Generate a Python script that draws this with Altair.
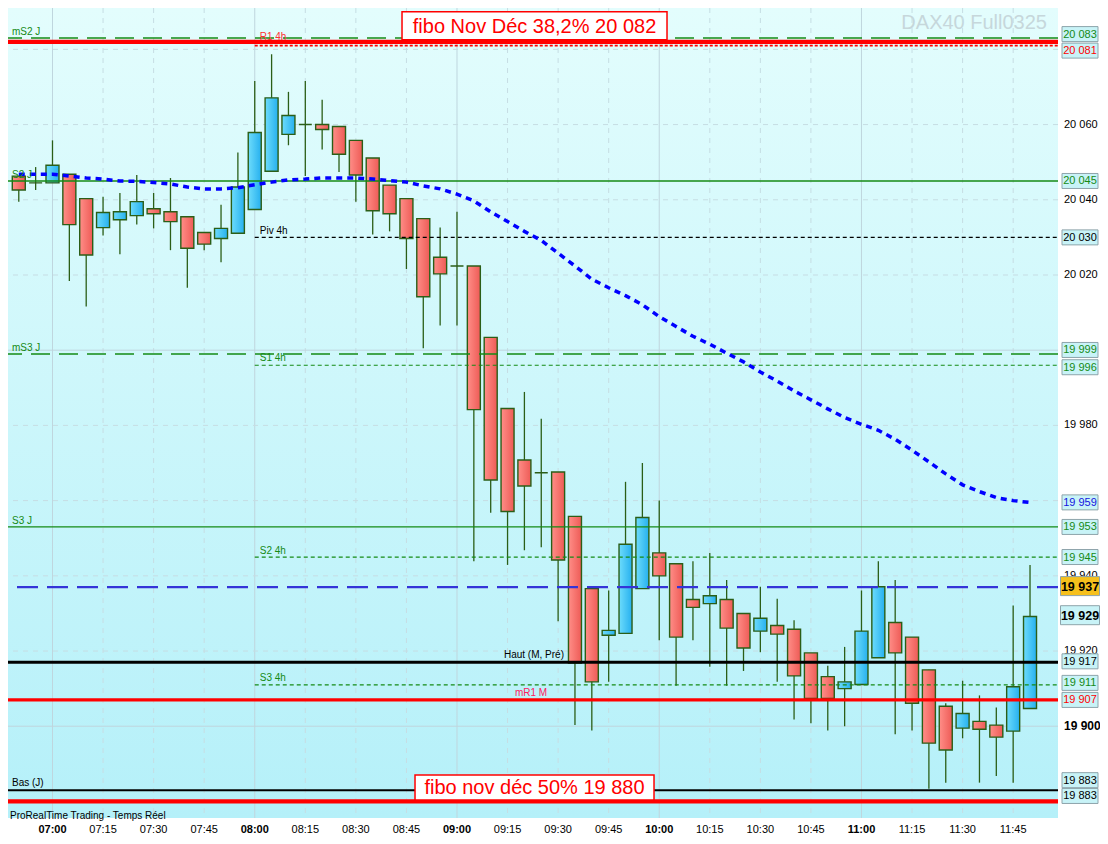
import pandas as pd
import altair as alt

# DAX40 5 min candles, 06:50 -> 11:50
times = ["06:50", "06:55", "07:00", "07:05", "07:10", "07:15", "07:20", "07:25",
         "07:30", "07:35", "07:40", "07:45", "07:50", "07:55", "08:00", "08:05",
         "08:10", "08:15", "08:20", "08:25", "08:30", "08:35", "08:40", "08:45",
         "08:50", "08:55", "09:00", "09:05", "09:10", "09:15", "09:20", "09:25",
         "09:30", "09:35", "09:40", "09:45", "09:50", "09:55", "10:00", "10:05",
         "10:10", "10:15", "10:20", "10:25", "10:30", "10:35", "10:40", "10:45",
         "10:50", "10:55", "11:00", "11:05", "11:10", "11:15", "11:20", "11:25",
         "11:30", "11:35", "11:40", "11:45", "11:50"]

opens = [20046.3, 20044.5, 20044.5, 20046.8, 20040.3, 20032.6, 20034.7, 20035.8, 20037.6, 20036.8,
         20035.5, 20031.3, 20029.7, 20031.1, 20037.4, 20047.6, 20057.4, 20060.0, 20060.0, 20059.5,
         20055.8, 20051.1, 20043.9, 20040.3, 20035.0, 20024.7, 20022.4, 20022.4, 20003.4, 19984.5,
         19970.8, 19967.4, 19967.6, 19955.8, 19936.6, 19924.2, 19924.7, 19936.6, 19946.1, 19943.2,
         19933.7, 19932.6, 19933.7, 19930.0, 19925.3, 19926.8, 19925.8, 19919.5, 19913.2, 19910.0,
         19911.1, 19918.2, 19927.6, 19923.7, 19915.0, 19905.3, 19899.5, 19901.3, 19900.3, 19898.7,
         19904.7]
highs = [20046.3, 20048.7, 20055.8, 20046.8, 20040.3, 20040.8, 20041.8, 20046.6, 20041.8, 20045.8,
         20035.5, 20031.3, 20038.7, 20052.6, 20071.6, 20078.7, 20068.7, 20071.6, 20066.6, 20059.5,
         20055.8, 20051.1, 20043.9, 20040.3, 20035.0, 20032.6, 20036.8, 20022.4, 20003.4, 19984.5,
         19988.9, 19981.8, 19967.6, 19955.8, 19936.6, 19936.1, 19965.0, 19970.0, 19960.0, 19943.2,
         19943.9, 19946.1, 19938.9, 19930.0, 19937.1, 19933.9, 19928.2, 19919.5, 19916.1, 19921.1,
         19936.1, 19943.9, 19938.9, 19923.7, 19915.0, 19906.1, 19912.1, 19908.2, 19905.0, 19932.1,
         19942.9]
lows = [20039.5, 20042.6, 20044.5, 20018.4, 20011.6, 20030.5, 20025.5, 20033.4, 20032.4, 20026.6,
        20016.6, 20026.6, 20023.4, 20031.1, 20037.4, 20047.6, 20054.5, 20046.3, 20053.4, 20047.4,
        20039.5, 20030.8, 20031.6, 20021.6, 20000.5, 20006.6, 20006.6, 19943.9, 19956.8, 19942.9,
        19946.8, 19947.6, 19927.9, 19900.3, 19898.9, 19911.8, 19924.7, 19936.6, 19922.9, 19910.8,
        19922.9, 19915.8, 19910.8, 19914.7, 19919.7, 19911.8, 19901.8, 19900.8, 19898.9, 19900.0,
        19911.1, 19918.2, 19897.9, 19898.9, 19883.4, 19885.0, 19896.8, 19885.0, 19886.8, 19885.0,
        19904.7]
closes = [20042.6, 20044.5, 20049.2, 20033.4, 20025.3, 20036.6, 20036.8, 20039.5, 20036.3, 20034.2,
          20027.1, 20028.2, 20032.4, 20043.4, 20057.9, 20067.1, 20062.4, 20060.0, 20058.7, 20052.1,
          20046.6, 20037.1, 20036.3, 20029.7, 20014.2, 20020.3, 20022.4, 19984.2, 19965.5, 19957.1,
          19963.9, 19967.4, 19944.2, 19916.8, 19911.8, 19925.5, 19948.4, 19955.5, 19940.0, 19923.7,
          19931.6, 19934.7, 19926.1, 19920.8, 19928.7, 19924.5, 19913.4, 19907.4, 19907.4, 19911.8,
          19925.3, 19937.1, 19919.5, 19906.1, 19895.5, 19893.7, 19903.4, 19899.2, 19897.1, 19910.5,
          19929.2]
# moving average (blue dotted)
ma = [20046.8, 20046.8, 20046.8, 20046.3, 20045.8, 20045.5, 20045.0, 20044.9, 20044.6, 20044.2,
      20043.4, 20042.9, 20042.9, 20043.2, 20044.0, 20044.7, 20045.3, 20045.5, 20045.8, 20045.8,
      20045.8, 20045.5, 20045.1, 20044.7, 20043.7, 20042.9, 20041.5, 20039.7, 20036.8, 20034.2,
      20031.6, 20029.2, 20025.8, 20022.4, 20018.9, 20016.6, 20014.5, 20012.1, 20008.9, 20006.3,
      20003.7, 20001.6, 19999.2, 19996.9, 19994.2, 19991.8, 19989.2, 19986.8, 19984.4, 19982.1,
      19980.3, 19978.7, 19976.3, 19973.4, 19970.3, 19967.1, 19964.2, 19962.4, 19960.8, 19960.0,
      19959.5]

# support / resistance levels
level_names = ["mS2 J", "R1 4h", "S2 J", "Piv 4h", "mS3 J", "S1 4h", "S3 J", "S2 4h",
               "Haut (M, Pré)", "S3 4h", "mR1 M", "Bas (J)"]
level_prices = [20083, 20081, 20045, 20030, 19999, 19996, 19953, 19945,
                19917, 19911, 19907, 19883]
fibo_texts = ["fibo Nov Déc 38,2% 20 082", "fibo nov déc 50% 19 880"]
fibo_prices = [20082, 19880]
price_line = 19937

# value boxes on the right scale
box_texts = ["20 083", "20 081", "20 045", "20 030", "19 999", "19 996", "19 959", "19 953",
             "19 945", "19 937", "19 929", "19 917", "19 911", "19 907", "19 883", "19 883"]
box_prices = [20083, 20081, 20045, 20030, 19999, 19996, 19959, 19953,
              19945, 19937, 19929, 19917, 19911, 19907, 19883, 19880]

y_ticks = list(range(19880, 20091, 10))
# scale labels that the value boxes do not cover
y_label_values = [20060, 20040, 20020, 19980, 19940, 19920, 19900]

# ---- layout / styles
W, H = 1050, 810
RIGHT = 42
X_DOM = [406.8, 718.3]
Y_DOM = [19875.6, 20091.0]
PX_PER_PT = H / (Y_DOM[1] - Y_DOM[0])
FONT = "Liberation Sans"
GREEN = "#158a15"
RED = "#ff0000"
EDGE = "#2b5e17"


def to_min(s):
    return int(s[:2]) * 60 + int(s[3:])


xs = alt.Scale(domain=X_DOM, nice=False, zero=False, padding=0)
ys = alt.Scale(domain=Y_DOM, nice=False, zero=False, padding=0)

df = pd.DataFrame({"time": times, "open": opens, "high": highs, "low": lows,
                   "close": closes, "ma": ma})
df["t"] = df["time"].map(to_min)
up = df["close"] > df["open"]

X = alt.X("t:Q", scale=xs, axis=None)


def grad(c0, c1, vertical=False):
    return alt.Gradient(gradient="linear",
                        stops=[alt.GradientStop(color=c0, offset=0),
                               alt.GradientStop(color=c1, offset=1)],
                        x1=0, x2=0 if vertical else 1, y1=0, y2=1 if vertical else 0)


one = pd.DataFrame({"t0": [X_DOM[0]], "t1": [X_DOM[1]], "p0": [Y_DOM[0]], "p1": [Y_DOM[1]]})

y_axis = alt.Axis(orient="right", values=y_ticks, title=None, grid=False, labels=False,
                  tickSize=4, tickColor="#8fa3aa", domainColor="#8fa3aa")

bg = alt.Chart(one).mark_rect(color=grad("#e3fdfd", "#b5f0f9", vertical=True)).encode(
    x=alt.X("t0:Q", scale=xs, axis=None), x2="t1:Q",
    y=alt.Y("p0:Q", scale=ys, axis=y_axis), y2="p1:Q")

watermark = alt.Chart(one).mark_text(text="DAX40 Full0325", font=FONT, fontSize=20,
                                     color="#c6d7db", align="right").encode(
    x=alt.value(W - 11), y=alt.value(15))

# time labels under the chart
xl = pd.DataFrame({"time": [t for t in times if t[3:] in ("00", "15", "30", "45")]})
xl["t"] = xl["time"].map(to_min)
xl["hour"] = xl["t"] % 60 == 0
x_labels = [
    alt.Chart(xl[xl.hour == h]).mark_text(font=FONT, fontSize=11, color="black",
                                          fontWeight="bold" if h else "normal",
                                          baseline="middle").encode(
        X, y=alt.value(H + 12), text="time:N")
    for h in (True, False)]

# price labels on the right scale
yl = pd.DataFrame({"p": y_label_values})
yl["txt"] = yl["p"].map(lambda v: f"{v:,}".replace(",", " "))
yl["bold"] = yl["p"] == 19900
y_labels = [
    alt.Chart(yl[yl.bold == b]).mark_text(font=FONT, fontSize=12 if b else 11, color="black",
                                          fontWeight="bold" if b else "normal",
                                          align="left", baseline="middle").encode(
        x=alt.value(W + 6), y=alt.Y("p:Q", scale=ys, axis=None), text="txt:N")
    for b in (True, False)]

# grid
vg = xl[["t", "hour"]]
grid_v_hour = alt.Chart(vg[vg.hour]).mark_rule(color="#bfd6de", strokeWidth=1).encode(X)
grid_v_q = alt.Chart(vg[~vg.hour]).mark_rule(color="#c6dde3", strokeWidth=1,
                                             strokeDash=[5, 5]).encode(X)
hg = pd.DataFrame({"p": [v for v in y_ticks if v % 20 == 0]})
hg["round"] = hg["p"] % 100 == 0
grid_h_round = alt.Chart(hg[hg["round"]]).mark_rule(color="#bfd6de", strokeWidth=1).encode(
    y=alt.Y("p:Q", scale=ys, axis=None))
grid_h = alt.Chart(hg[~hg["round"]]).mark_rule(color="#c6dde3", strokeWidth=1,
                                               strokeDash=[5, 5]).encode(
    y=alt.Y("p:Q", scale=ys, axis=None))

# candles
wicks = alt.Chart(df).mark_rule(color=EDGE, strokeWidth=1.3).encode(
    X, y=alt.Y("low:Q", scale=ys, axis=None), y2="high:Q")
bear = alt.Chart(df[~up]).mark_bar(size=13, color=grad("#ff8e88", "#ee5b56"), stroke=EDGE,
                                   strokeWidth=1.4).encode(
    X, y=alt.Y("open:Q", scale=ys, axis=None), y2="close:Q")
bull = alt.Chart(df[up]).mark_bar(size=13, color=grad("#6ddcfb", "#26b0ef"), stroke=EDGE,
                                  strokeWidth=1.4).encode(
    X, y=alt.Y("open:Q", scale=ys, axis=None), y2="close:Q")
ma_line = alt.Chart(df).mark_line(color="#0000ff", strokeWidth=3.5, strokeDash=[6, 5]).encode(
    X, y=alt.Y("ma:Q", scale=ys, axis=None))

# levels: colour, width, dash, span, label colour, label anchor, label dy
LSTYLE = {
    "mS2 J": (GREEN, 1.5, [19, 9], "all", GREEN, "left", -3),
    "R1 4h": (RED, 1.6, [3, 2], "4h", "#ff3030", "4h", -6),
    "S2 J": (GREEN, 1.3, None, "all", GREEN, "left", -3),
    "Piv 4h": ("black", 1.2, [4, 3], "4h", "black", "4h", -3),
    "mS3 J": (GREEN, 1.5, [19, 9], "all", GREEN, "left", -3),
    "S1 4h": (GREEN, 1.2, [4, 3], "4h", GREEN, "4h", -4),
    "S3 J": (GREEN, 1.3, None, "all", GREEN, "left", -3),
    "S2 4h": (GREEN, 1.2, [4, 3], "4h", GREEN, "4h", -3),
    "Haut (M, Pré)": ("black", 3, None, "all", "black", 575, -4),
    "S3 4h": (GREEN, 1.2, [4, 3], "4h", GREEN, "4h", -4),
    "mR1 M": (RED, 3.2, None, "all", "#ff2060", 570, -4),
    "Bas (J)": ("black", 2, None, "all", "black", "left", -4),
}

level_layers = []
label_layers = []


def level_rule(price, color, width, dash, span):
    kw = dict(color=color, strokeWidth=width)
    if dash:
        kw["strokeDash"] = dash
    d = pd.DataFrame({"p": [price], "t0": [480], "t1": [X_DOM[1]]})
    enc = dict(y=alt.Y("p:Q", scale=ys, axis=None))
    if span == "4h":
        enc["x"] = alt.X("t0:Q", scale=xs, axis=None)
        enc["x2"] = "t1:Q"
    return alt.Chart(d).mark_rule(**kw).encode(**enc)


for name, price in zip(level_names, level_prices):
    color, width, dash, span, lcol, anchor, ldy = LSTYLE[name]
    level_layers.append(level_rule(price, color, width, dash, span))
    if anchor == "left":
        t, align, dx = X_DOM[0], "left", 4
    elif anchor == "4h":
        t, align, dx = 480, "left", 5
    else:
        t, align, dx = anchor, "right", -11
    label_layers.append(
        alt.Chart(pd.DataFrame({"t": [t], "p": [price]})).mark_text(
            text=name, font=FONT, fontSize=10, color=lcol, align=align, dx=dx, dy=ldy,
            baseline="alphabetic").encode(
            x=alt.X("t:Q", scale=xs, axis=None), y=alt.Y("p:Q", scale=ys, axis=None)))

level_layers.append(level_rule(price_line, "#3434d8", 2.2, [21, 9], "all"))
for p in fibo_prices:
    level_layers.append(level_rule(p, RED, 4.3, None, "all"))

# fibo captions in white boxes above their lines
fibo_layers = []
for txt, p, bw, bh, up_px in zip(fibo_texts, fibo_prices, [265, 239], [28, 25], [16, 14]):
    d = pd.DataFrame({"t": [563], "p": [p + up_px / PX_PER_PT]})
    half = bh / bw
    enc = dict(x=alt.X("t:Q", scale=xs, axis=None), y=alt.Y("p:Q", scale=ys, axis=None))
    fibo_layers.append(alt.Chart(d).mark_point(
        shape=f"M-1,-{half:.4f}H1V{half:.4f}H-1Z", size=bw * bw, filled=True,
        color="white", stroke=RED, strokeWidth=1.5, opacity=1).encode(**enc))
    fibo_layers.append(alt.Chart(d).mark_text(
        text=txt, font=FONT, fontSize=20, color=RED, baseline="middle", dy=1).encode(**enc))

# right-hand value boxes
box_color = [GREEN, RED, GREEN, "black", GREEN, GREEN, "#1414e0", GREEN,
             GREEN, "black", "black", "black", GREEN, RED, "black", "black"]
box_fill = ["#c8f3f7"] * 9 + ["#f6c01c"] + ["#c8f3f7"] * 6
box_bold = [i in (9, 10) for i in range(len(box_texts))]
box_nudge = [-4, 5, 0, 0, -4, 2, -2, 0, 0, -1, -2, -1, -2, 0, -10, -5.5]

bx = pd.DataFrame({"txt": box_texts, "tc": box_color, "fill": box_fill, "bold": box_bold,
                   "bp": [p - n / PX_PER_PT for p, n in zip(box_prices, box_nudge)]})
box_layers = []
for bold, bw, bh, fs in [(False, 36, 15, 11), (True, 39, 19, 12.5)]:
    d = bx[bx["bold"] == bold]
    half = bh / bw
    Y = alt.Y("bp:Q", scale=ys, axis=None)
    cx = alt.value(W + 22)
    box_layers.append(alt.Chart(d).mark_point(
        shape=f"M-1,-{half:.4f}H1V{half:.4f}H-1Z", size=bw * bw, filled=True,
        stroke="#8ea4ab", strokeWidth=1, opacity=1).encode(
        x=cx, y=Y, color=alt.Color("fill:N", scale=None)))
    box_layers.append(alt.Chart(d).mark_text(
        font=FONT, fontSize=fs, fontWeight="bold" if bold else "normal",
        baseline="middle", dy=0.5).encode(
        x=cx, y=Y, text="txt:N", color=alt.Color("tc:N", scale=None)))

footer = alt.Chart(one).mark_text(text="ProRealTime Trading - Temps Réel", font=FONT,
                                  fontSize=10, color="black", align="left").encode(
    x=alt.value(2), y=alt.value(H - 2))

chart = alt.layer(
    bg, watermark, grid_v_hour, grid_v_q, grid_h_round, grid_h,
    wicks, bear, bull, *level_layers, ma_line, *label_layers,
    *y_labels, *fibo_layers, *box_layers, *x_labels, footer
).properties(
    width=W, height=H, background="white",
    autosize=alt.AutoSizeParams(type="none"),
    padding={"left": 0, "top": 0, "right": RIGHT, "bottom": 18},
).configure_view(strokeWidth=0)

chart.save("out.html", embed_options={"renderer": "svg", "actions": False})
